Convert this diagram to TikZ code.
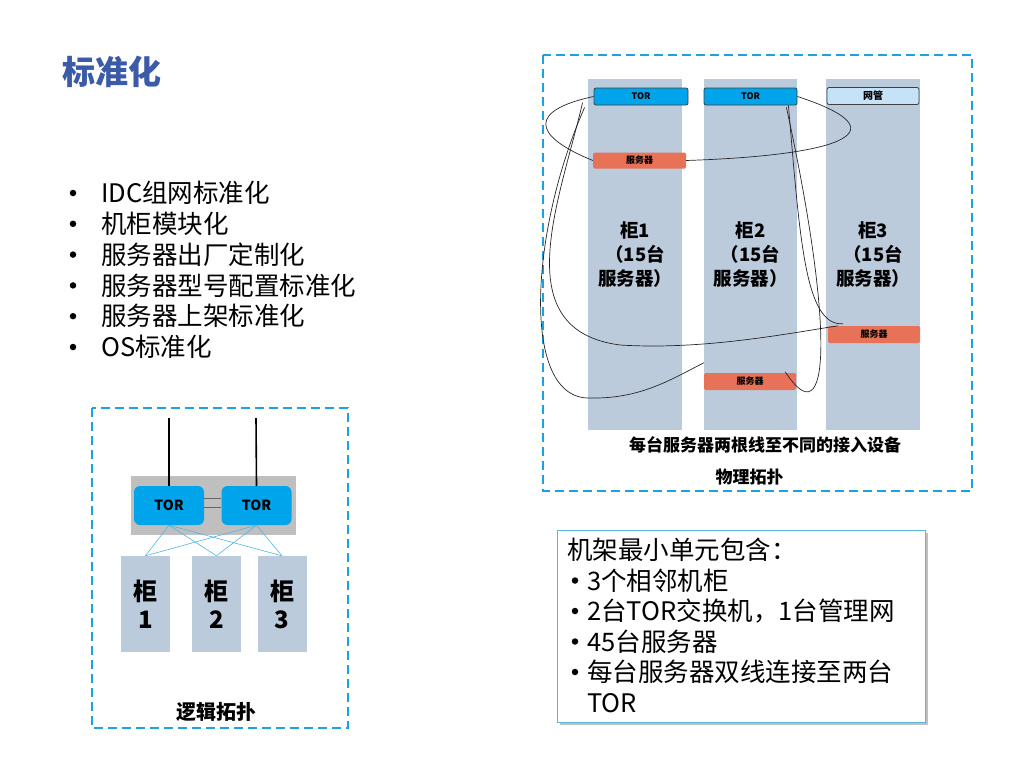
\documentclass[tikz,border=0pt]{standalone}
\usepackage{fontspec}
\setmainfont{Noto Sans CJK SC}
\usetikzlibrary{positioning,shadows}
\definecolor{dashblue}{RGB}{30,160,228}
\definecolor{titleblue}{RGB}{59,91,169}
\definecolor{rackgray}{RGB}{188,203,219}
\definecolor{torblue}{RGB}{0,164,235}
\definecolor{srvred}{RGB}{232,114,88}
\definecolor{mgmtblue}{RGB}{197,226,247}
\definecolor{linkblue}{RGB}{80,180,230}
\definecolor{infoline}{RGB}{90,185,215}
\tikzset{
	frame/.style    = {draw=dashblue, line width=2.6pt, dash pattern=on 9pt off 5pt},
	rack/.style     = {fill=rackgray, inner sep=0pt, minimum height=351pt, align=center,
		font=\bfseries\fontsize{18.5}{24}\selectfont},
	torbox/.style   = {draw=black!75, line width=0.8pt, fill=torblue, rounded corners=2pt,
		inner sep=0pt, minimum width=94pt, minimum height=17pt,
		font=\bfseries\fontsize{9}{9}\selectfont},
	mgmt/.style     = {torbox, fill=mgmtblue},
	srvbox/.style   = {fill=srvred, rounded corners=1.5pt, inner sep=0pt,
		minimum width=93pt, minimum height=16pt, font=\bfseries\fontsize{9}{9}\selectfont},
	wire/.style     = {draw=black!85, line width=0.7pt},
	cab/.style      = {fill=rackgray, inner sep=0pt, minimum width=49pt, minimum height=96pt,
		align=center, font=\bfseries\fontsize{24}{28}\selectfont},
	ltor/.style     = {fill=torblue, rounded corners=6pt, inner sep=0pt, minimum width=70pt,
		minimum height=39pt, font=\bfseries\fontsize{14}{14}\selectfont},
	link/.style     = {draw=linkblue, line width=0.6pt},
	uplink/.style   = {draw=black, line width=1.6pt},
	caption/.style  = {inner sep=0pt, font=\bfseries\fontsize{17}{17}\selectfont},
	item/.style     = {anchor=base west, inner sep=0pt, font=\fontsize{25.5}{30}\selectfont},
	dot/.style      = {circle, fill=black, inner sep=0pt, minimum size=6.5pt},
	infobox/.style  = {draw=infoline, line width=0.8pt, fill=white, minimum width=368pt,
		minimum height=192pt, drop shadow={shadow xshift=3pt, shadow yshift=-3pt, opacity=.5}},
}

\begin{document}
\begin{tikzpicture}[x=1pt, y=-1pt]
\useasboundingbox (0,0) rectangle (1024,768);

% title and list
\node [anchor=west, inner sep=0pt, text=titleblue, font=\bfseries\fontsize{33}{33}\selectfont] (title) at (62,72) {标准化};
\foreach \txt [count=\i] in {IDC组网标准化, 机柜模块化, 服务器出厂定制化, 服务器型号配置标准化, 服务器上架标准化, OS标准化} {
	\node [dot] (dot\i) at (73, 193+30.8*\i-30.8) {};
	\node [item] (std\i) at (101, 202.7+30.8*\i-30.8) {\txt};
}

% logical topology
\draw [frame] (92,408) rectangle (348,728);
\node [fill=gray!50, inner sep=0pt, minimum width=165pt, minimum height=59pt] (bay) at (213.5,505.5) {};
\node [ltor] (ltor1) at (169,505.5) {TOR};
\node [ltor] (ltor2) at (256.5,505.5) {TOR};
\coordinate (up1) at (169,418);
\coordinate (up2) at (256,418);
\draw [uplink] (up1) -- (ltor1.north);
\draw [uplink] (up2) -- (ltor2.north);
\draw [gray!80!black, line width=0.6pt] ([yshift=7.5pt]ltor1.east) -- ([yshift=7.5pt]ltor2.west);
\draw [gray!80!black, line width=0.6pt] ([yshift=-1.5pt]ltor1.east) -- ([yshift=-1.5pt]ltor2.west);
\node [cab] (lcab1) at (145.5,604) {柜\\1};
\node [cab] (lcab2) at (216.5,604) {柜\\2};
\node [cab] (lcab3) at (282,604) {柜\\3};
\foreach \c in {lcab1, lcab2, lcab3} {
	\draw [link] (ltor1.south) -- (\c.north);
	\draw [link] (ltor2.south) -- (\c.north);
}
\node [inner sep=0pt, font=\bfseries\fontsize{20}{20}\selectfont] (logic) at (216,712) {逻辑拓扑};

% physical topology
\draw [frame] (543,55) rectangle (972,491);
\node [rack, minimum width=94pt] (col1) at (635,254.5) {柜1\\（15台\\服务器）};
\node [rack, minimum width=93pt] (col2) at (750.5,254.5) {柜2\\（15台\\服务器）};
\node [rack, minimum width=94pt] (col3) at (873,254.5) {柜3\\（15台\\服务器）};
\node [torbox] (ptor1) at (641,96.5) {TOR};
\node [torbox, minimum width=93pt] (ptor2) at (750.5,96.5) {TOR};
\node [mgmt, minimum width=92pt, font=\bfseries\fontsize{10}{10}\selectfont] (pmgmt) at (873,96) {网管};
\node [srvbox] (psrv1) at (639.5,160.5) {服务器};
\node [srvbox, minimum width=92pt, minimum height=17pt] (psrv3) at (874,334.5) {服务器};
\node [srvbox, minimum width=92pt, minimum height=17pt] (psrv2) at (750,381.5) {服务器};

% two wires per server
\draw [wire] (ptor1.west) .. controls (530,110) and (530,135) .. (psrv1.west);
\draw [wire] (psrv1.east) .. controls (850,155) and (900,130) .. (ptor2.east);
\draw [wire] ([xshift=-11pt,yshift=-6pt]ptor1.west) .. controls (560,200) and (505,330) .. (620,345)
	.. controls (700,350) and (780,335) .. ([xshift=10pt]psrv3.north west);
\draw [wire] ([xshift=-9pt]ptor2.south east) .. controls (800,240) and (805,326) .. ([xshift=15pt,yshift=2pt]psrv3.north west);
\draw [wire] ([xshift=-9pt,yshift=-11pt]ptor1.west) .. controls (530,230) and (520,400) .. (590,398)
	.. controls (640,399) and (670,380) .. ([yshift=10pt]psrv2.north west);
\draw [wire] ([xshift=-11pt,yshift=-2pt]ptor2.south east) .. controls (835,330) and (830,440) .. ([xshift=-11pt,yshift=1pt]psrv2.north east);

\node [caption] (note) at (765,445) {每台服务器两根线至不同的接入设备};
\node [caption] (phys) at (749.5,477) {物理拓扑};

% rack unit summary
\node [infobox] (info) at (741,626) {};
\node [item] (head) at (567,559.7) {机架最小单元包含：};
\foreach \txt [count=\i] in {3个相邻机柜, 2台TOR交换机，1台管理网, 45台服务器, 每台服务器双线连接至两台} {
	\node [dot] (idot\i) at (575, 550+30.5*\i) {};
	\node [item] (unit\i) at (587, 559.7+30.5*\i) {\txt};
}
\node [item] (unit5) at (587,712.2) {TOR};
\end{tikzpicture}
\end{document}
